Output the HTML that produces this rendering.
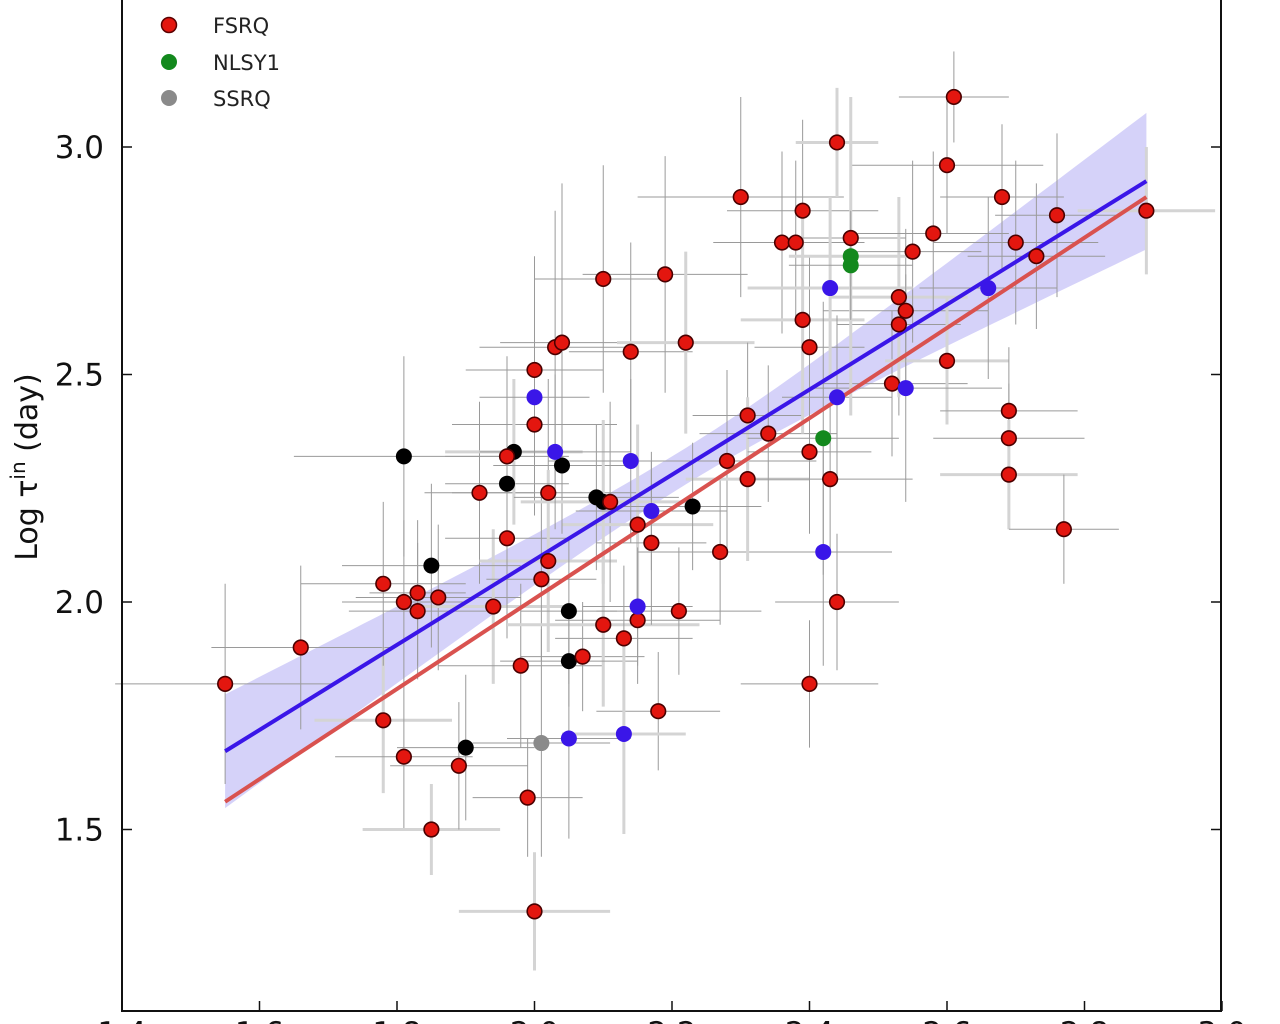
<!DOCTYPE html>
<html><head><meta charset="utf-8"><style>
html,body{margin:0;padding:0;background:#fff;width:1280px;height:1024px;overflow:hidden}
svg{display:block}
text{font-family:"DejaVu Sans","Liberation Sans",sans-serif}
</style></head><body>
<svg id="chart" width="1280" height="1024" viewBox="0 0 1280 1024" xmlns="http://www.w3.org/2000/svg">
<g id="band"></g>
<g id="errs"></g>
<g id="fits"></g>
<g id="pts"></g>
<g id="axes"></g>
<g id="legend">
<circle cx="169" cy="25" r="7.5" fill="#e3160f" stroke="#5a0000" stroke-width="1.5"/>
<text x="213" y="33" font-size="21" fill="#222">FSRQ</text>
<circle cx="169" cy="62" r="8" fill="#13891d"/>
<text x="213" y="70" font-size="21" fill="#222">NLSY1</text>
<circle cx="169" cy="98" r="8" fill="#8a8a8a"/>
<text x="213" y="106" font-size="21" fill="#222">SSRQ</text>
</g>
<text transform="translate(37,467) rotate(-90)" text-anchor="middle" font-size="30" fill="#111">Log τ<tspan dy="-12" font-size="20">in</tspan><tspan dy="12"> (day)</tspan></text>
</svg>
<script>
const redX=[1.55,1.66,1.78,1.81,1.81,1.83,1.83,1.85,1.86,1.78,1.89,1.92,1.94,1.96,1.96,1.98,1.99,2.00,2.00,2.00,2.01,2.02,2.02,2.03,2.04,2.07,2.10,2.10,2.11,2.13,2.14,2.15,2.15,2.17,2.18,2.19,2.21,2.22,2.27,2.28,2.30,2.31,2.31,2.34,2.36,2.38,2.39,2.39,2.40,2.40,2.40,2.43,2.44,2.44,2.46,2.52,2.53,2.53,2.54,2.55,2.58,2.60,2.60,2.61,2.68,2.69,2.69,2.69,2.70,2.73,2.76,2.77,2.89];
const redY=[1.82,1.90,1.74,2.00,1.66,1.98,2.02,1.50,2.01,2.04,1.64,2.24,1.99,2.14,2.32,1.86,1.57,1.32,2.51,2.39,2.05,2.24,2.09,2.56,2.57,1.88,2.71,1.95,2.22,1.92,2.55,1.96,2.17,2.13,1.76,2.72,1.98,2.57,2.11,2.31,2.89,2.41,2.27,2.37,2.79,2.79,2.86,2.62,2.56,1.82,2.33,2.27,3.01,2.00,2.80,2.48,2.61,2.67,2.64,2.77,2.81,2.96,2.53,3.11,2.89,2.42,2.36,2.28,2.79,2.76,2.85,2.16,2.86];
const blackX=[1.81,1.85,1.90,1.96,1.97,2.04,2.05,2.05,2.09,2.10,2.23];
const blackY=[2.32,2.08,1.68,2.26,2.33,2.30,1.98,1.87,2.23,2.22,2.21];
const blueX=[2.00,2.03,2.05,2.13,2.14,2.15,2.17,2.42,2.43,2.44,2.54,2.66];
const blueY=[2.45,2.33,1.70,1.71,2.31,1.99,2.20,2.11,2.69,2.45,2.47,2.69];
const greenX=[2.42,2.46,2.46];
const greenY=[2.36,2.76,2.74];
const grayX=[2.01];
const grayY=[1.69];
const xErr=[0.16,0.13,0.10,0.09,0.10,0.10,0.07,0.10,0.12,0.12,0.10,0.08,0.11,0.09,0.09,0.12,0.08,0.11,0.10,0.12,0.08,0.14,0.10,0.11,0.09,0.09,0.10,0.14,0.09,0.10,0.09,0.12,0.11,0.08,0.09,0.12,0.12,0.10,0.12,0.13,0.15,0.08,0.09,0.10,0.10,0.10,0.11,0.09,0.08,0.10,0.09,0.12,0.06,0.09,0.08,0.11,0.09,0.10,0.12,0.10,0.11,0.14,0.09,0.08,0.09,0.10,0.11,0.10,0.12,0.10,0.09,0.08,0.10];
const yErr=[0.22,0.18,0.16,0.18,0.16,0.15,0.16,0.10,0.16,0.18,0.14,0.20,0.17,0.22,0.22,0.18,0.13,0.13,0.25,0.20,0.18,0.25,0.20,0.30,0.35,0.12,0.25,0.18,0.22,0.16,0.24,0.14,0.22,0.18,0.13,0.26,0.14,0.20,0.16,0.20,0.22,0.16,0.18,0.15,0.20,0.18,0.20,0.25,0.20,0.14,0.18,0.16,0.12,0.15,0.25,0.16,0.20,0.22,0.18,0.20,0.18,0.15,0.14,0.10,0.16,0.14,0.12,0.12,0.18,0.16,0.18,0.12,0.14];
const xTicks=[1.4,1.6,1.8,2.0,2.2,2.4,2.6,2.8,3.0];
const yTicks=[1.5,2.0,2.5,3.0];
const fitBlue=[1.55,1.672,2.89,2.925];
const fitRed=[1.55,1.561,2.89,2.890];
const bandHalf=[0.125,0.04,0.15];

const NS='http://www.w3.org/2000/svg';
const X=v=>122+(v-1.4)*687.5;
const Y=v=>147+(3.0-v)*455;
function mk(tag,attrs,parent){const e=document.createElementNS(NS,tag);for(const k in attrs)e.setAttribute(k,attrs[k]);parent.appendChild(e);return e;}
const g=id=>document.getElementById(id);

// band
(function(){
 const x0=fitBlue[0],x1=fitBlue[2],xc=(x0+x1)/2;
 const a=bandHalf[1]*bandHalf[1];
 const bL=(bandHalf[0]*bandHalf[0]-a)/((x0-xc)*(x0-xc));
 const bR=(bandHalf[2]*bandHalf[2]-a)/((x1-xc)*(x1-xc));
 const f=x=>fitBlue[1]+(fitBlue[3]-fitBlue[1])*(x-x0)/(x1-x0);
 const up=[],lo=[];
 for(let i=0;i<=60;i++){const x=x0+(x1-x0)*i/60;const b=x<xc?bL:bR;const h=Math.sqrt(a+b*(x-xc)*(x-xc));
  up.push(X(x).toFixed(1)+','+Y(f(x)+h).toFixed(1));lo.unshift(X(x).toFixed(1)+','+Y(f(x)-h).toFixed(1));}
 const p=mk('polygon',{points:up.concat(lo).join(' '),fill:'#b9b4f5','fill-opacity':'0.6'},g('band'));
 
 
})();

// error bars
const allX=redX.concat(blackX,blueX,greenX,grayX);
const allY=redY.concat(blackY,blueY,greenY,grayY);
allX.forEach((x,i)=>{
 const xe=xErr[i%xErr.length],ye=yErr[i%yErr.length];
 const thick=(i%5===2)?3:1;
 const col=(i%5===2)?'#d4d4d4':'#9a9a9a';
 const l1=mk('line',{x1:X(x-xe),x2:X(x+xe),y1:Y(allY[i]),y2:Y(allY[i]),stroke:col,'stroke-width':thick},g('errs'));
 
 
 const l2=mk('line',{x1:X(x),x2:X(x),y1:Y(allY[i]-ye),y2:Y(allY[i]+ye),stroke:col,'stroke-width':thick},g('errs'));
 
 
});

// fits
const lb=mk('line',{x1:X(fitBlue[0]),y1:Y(fitBlue[1]),x2:X(fitBlue[2]),y2:Y(fitBlue[3]),stroke:'#3a16e8','stroke-width':4},g('fits'));


const lr=mk('line',{x1:X(fitRed[0]),y1:Y(fitRed[1]),x2:X(fitRed[2]),y2:Y(fitRed[3]),stroke:'#d9524f','stroke-width':4},g('fits'));



// points
function series(xs,ys,fill,stroke,name,r){xs.forEach((x,i)=>{
 const c=mk('circle',{cx:X(x),cy:Y(ys[i]),r:r,fill:fill},g('pts'));
 if(stroke){c.setAttribute('stroke',stroke);c.setAttribute('stroke-width','1.6');}
 
 
});}
series(blackX,blackY,'#000',null,'bllac-point',8);
series(redX,redY,'#e3160f','#4a0000','fsrq-point',7.3);
series(blueX,blueY,'#3a16e8',null,'blue-point',8);
series(greenX,greenY,'#13891d',null,'nlsy1-point',8);
series(grayX,grayY,'#8a8a8a',null,'ssrq-point',8);

// axes
const ax=g('axes');
const fr=mk('polyline',{points:'122,0 122,1011 1221,1011 1221,0',fill:'none',stroke:'#111','stroke-width':2},ax);


xTicks.forEach(t=>{
 mk('line',{x1:X(t),x2:X(t),y1:1011,y2:1001,stroke:'#111','stroke-width':1.5},ax);
 const tx=mk('text',{x:X(t),y:1044,'text-anchor':'middle','font-size':'31',fill:'#111'},ax);
 tx.textContent=t.toFixed(1);
 
 
});
yTicks.forEach(t=>{
 mk('line',{x1:122,x2:132,y1:Y(t),y2:Y(t),stroke:'#111','stroke-width':1.5},ax);
 mk('line',{x1:1221,x2:1211,y1:Y(t),y2:Y(t),stroke:'#111','stroke-width':1.5},ax);
 const tx=mk('text',{x:104,y:Y(t)+11,'text-anchor':'end','font-size':'31',fill:'#111'},ax);
 tx.textContent=t.toFixed(1);
 
 
});
</script>
</body></html>
